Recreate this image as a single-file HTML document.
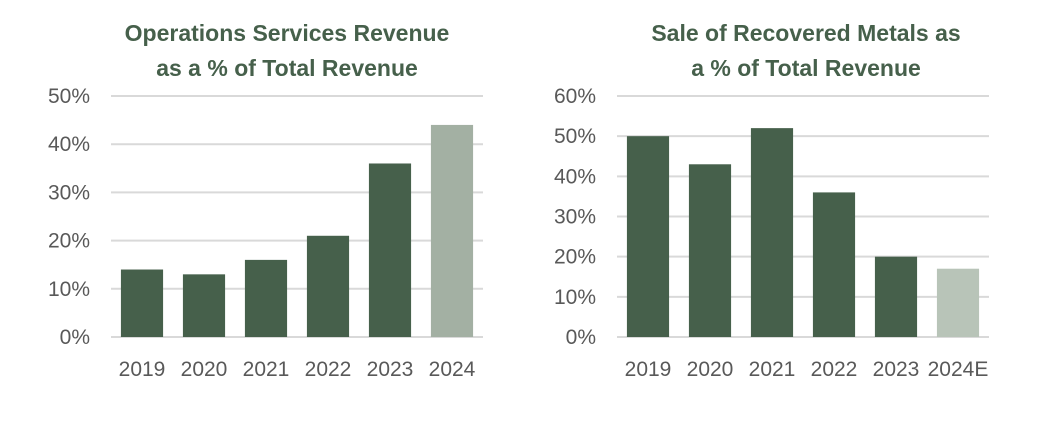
<!DOCTYPE html>
<html><head><meta charset="utf-8"><style>
body{margin:0;background:#fff;width:1058px;height:424px;overflow:hidden}
svg{display:block}
text{font-family:"Liberation Sans",sans-serif}
.t{font-weight:bold;font-size:23px;fill:#46604b}
.tk{font-size:21px;fill:#595959}
</style></head><body>
<svg id="s" width="1058" height="424">
<text class="t" x="287" y="41" text-anchor="middle">Operations Services Revenue</text>
<text class="t" x="287" y="76" text-anchor="middle">as a % of Total Revenue</text>
<text class="t" x="806" y="41" text-anchor="middle">Sale of Recovered Metals as</text>
<text class="t" x="806" y="76" text-anchor="middle">a % of Total Revenue</text>
</svg>
<script>
const leftCats=["2019","2020","2021","2022","2023","2024"];
const leftVals=[14,13,16,21,36,44];
const leftTicks=[0,10,20,30,40,50];
const rightCats=["2019","2020","2021","2022","2023","2024E"];
const rightVals=[50,43,52,36,20,17];
const rightTicks=[0,10,20,30,40,50,60];
const NS="http://www.w3.org/2000/svg",svg=document.getElementById('s');
function mk(t,a,txt){const e=document.createElementNS(NS,t);for(const k in a)e.setAttribute(k,a[k]);if(txt!==undefined)e.textContent=txt;svg.appendChild(e);return e;}
function chart(p,cats,vals,ticks,x0,x1,lastColor){
 const y0=337,y1=96,max=ticks[ticks.length-1];
 const y=v=>y0-(v/max)*(y0-y1);
 const step=(x1-x0)/cats.length,bw=step*0.68;
 ticks.forEach(t=>{
  const g=mk('line',{x1:x0,x2:x1,y1:y(t),y2:y(t),stroke:'#d9d9d9','stroke-width':2});
  
  
  const l=mk('text',{x:x0-21,y:y(t)+7,'text-anchor':'end',class:'tk'},t+'%');
  
  
 });
 cats.forEach((c,i)=>{
  const cx=x0+step*(i+0.5);
  const r=mk('rect',{x:cx-bw/2,y:y(vals[i]),width:bw,height:y0-y(vals[i]),fill:i==cats.length-1?lastColor:'#46604b'});
  
  
  const l=mk('text',{x:cx,y:376,'text-anchor':'middle',class:'tk'},c);
  
  
 });
}
chart('left',leftCats,leftVals,leftTicks,111,483,'#a3b0a3');
chart('right',rightCats,rightVals,rightTicks,617,989,'#b8c4b8');
</script>
</body></html>
